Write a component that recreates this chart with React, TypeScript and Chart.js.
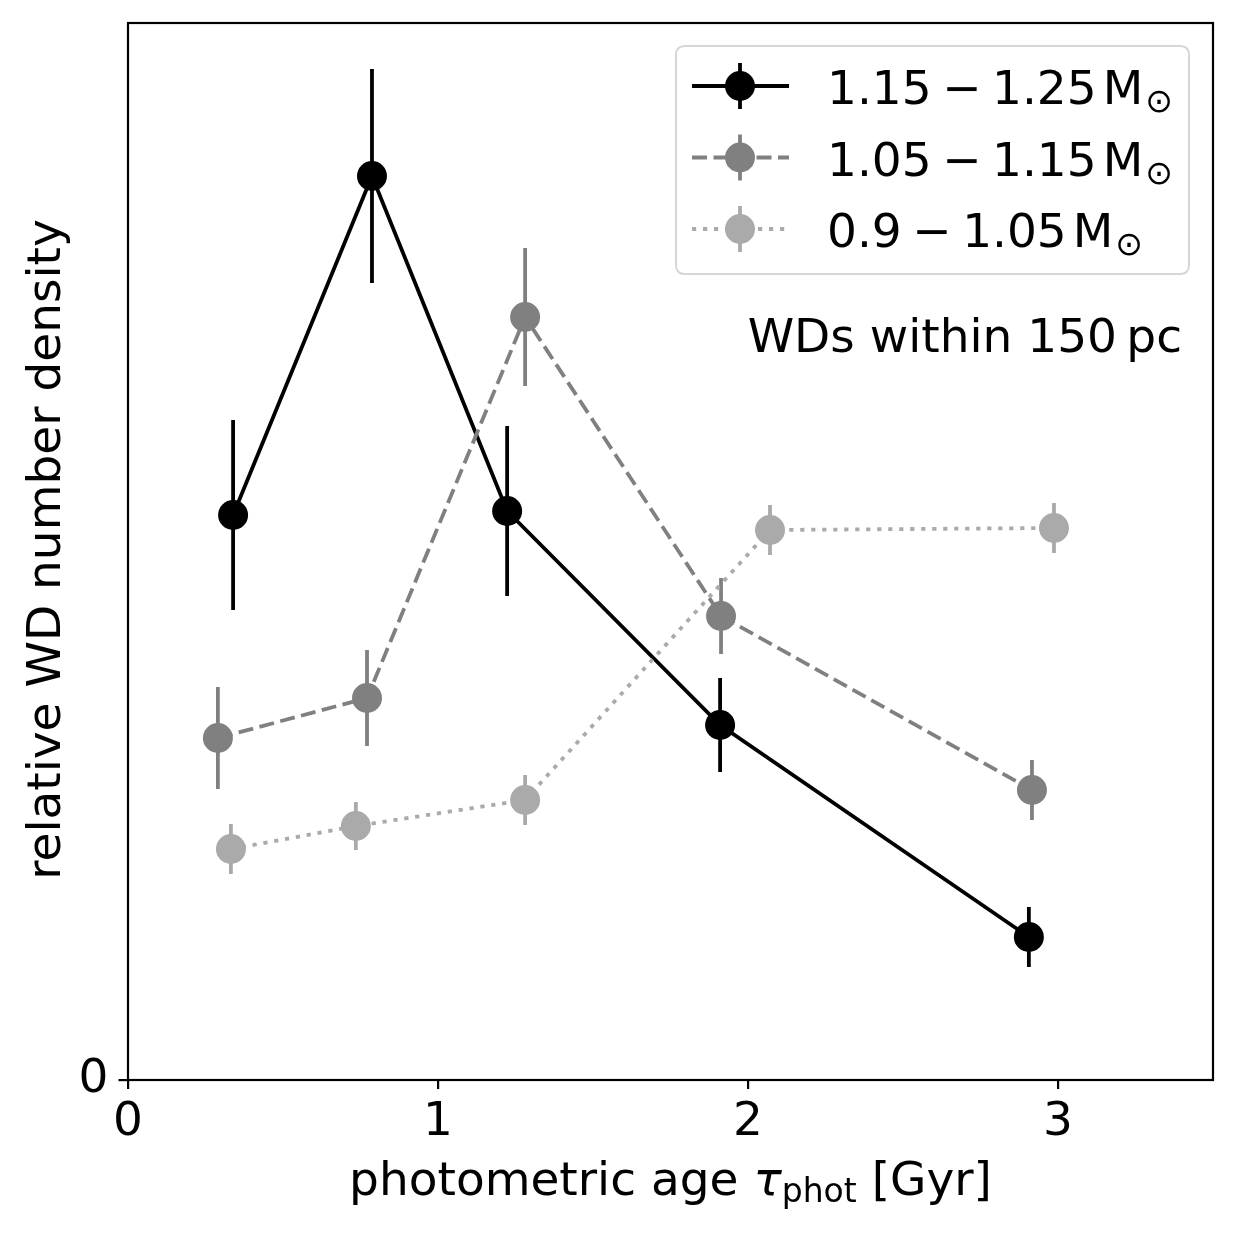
import React, { useEffect, useRef } from 'react';
import { Chart, registerables } from 'chart.js';

Chart.register(...registerables);

// ---------- data ----------
const massRanges = [
  ['1.15', '1.25'],
  ['1.05', '1.15'],
  ['0.9', '1.05'],
];
const seriesLabels = massRanges.map((r) => `${r[0]} − ${r[1]}`);

const heavyAge = [0.339, 0.787, 1.223, 1.91, 2.906];
const heavyDensity = [5.65, 9.04, 5.69, 3.55, 1.43];
const heavyErr = [0.95, 1.07, 0.85, 0.47, 0.3];

const midAge = [0.29, 0.771, 1.281, 1.913, 2.916];
const midDensity = [3.42, 3.82, 7.63, 4.64, 2.9];
const midErr = [0.51, 0.48, 0.69, 0.38, 0.3];

const lightAge = [0.332, 0.735, 1.281, 2.071, 2.987];
const lightDensity = [2.31, 2.54, 2.8, 5.5, 5.52];
const lightErr = [0.25, 0.24, 0.25, 0.25, 0.25];

const xTickValues = [0, 1, 2, 3];
const yTickValues = [0];
const xMax = 3.5;
const yMax = 10.57;

const annotationText = 'WDs within 150\u2009pc';

// ---------- styles ----------
const FONT = '"DejaVu Sans", sans-serif';
const FS = 47;
const LW = 3.8;
const colors = ['#000000', '#808080', '#aaaaaa'];
const dashes: number[][] = [[], [15, 6.5], [4.2, 6.8]];

const toPoints = (xs: number[], ys: number[]) => xs.map((x, i) => ({ x, y: ys[i] }));

const errorBarPlugin = {
  id: 'errorBars',
  beforeDatasetDraw(chart: any, args: any) {
    const ds = chart.data.datasets[args.index];
    const errs: number[] = ds.errors || [];
    const ctx = chart.ctx;
    const xs = chart.scales.x;
    const ys = chart.scales.y;
    ctx.save();
    ctx.strokeStyle = ds.borderColor;
    ctx.lineWidth = LW;
    ctx.setLineDash([]);
    ds.data.forEach((p: any, i: number) => {
      const px = xs.getPixelForValue(p.x);
      ctx.beginPath();
      ctx.moveTo(px, ys.getPixelForValue(p.y - errs[i]));
      ctx.lineTo(px, ys.getPixelForValue(p.y + errs[i]));
      ctx.stroke();
    });
    ctx.restore();
  },
};

const decorPlugin = {
  id: 'decor',
  afterDraw(chart: any) {
    const ctx = chart.ctx;
    const a = chart.chartArea;
    ctx.save();
    // frame
    ctx.strokeStyle = '#000';
    ctx.lineWidth = 2.2;
    ctx.setLineDash([]);
    ctx.strokeRect(a.left, a.top, a.right - a.left, a.bottom - a.top);

    ctx.fillStyle = '#000';
    ctx.textBaseline = 'alphabetic';

    // y title
    ctx.save();
    ctx.translate(60, (a.top + a.bottom) / 2 - 2);
    ctx.rotate(-Math.PI / 2);
    ctx.font = `${FS}px ${FONT}`;
    ctx.textAlign = 'center';
    ctx.fillText('relative WD number density', 0, 0);
    ctx.restore();

    // x title with subscript
    const base = 1195;
    const p1 = 'photometric age ';
    const p2 = 'τ';
    const p3 = 'phot';
    const p4 = ' [Gyr]';
    const fMain = `${FS}px ${FONT}`;
    const fIt = `italic ${FS}px ${FONT}`;
    const fSub = `${Math.round(FS * 0.7)}px ${FONT}`;
    ctx.textAlign = 'left';
    ctx.font = fMain; const w1 = ctx.measureText(p1).width; const w4 = ctx.measureText(p4).width;
    ctx.font = fIt; const w2 = ctx.measureText(p2).width;
    ctx.font = fSub; const w3 = ctx.measureText(p3).width;
    const total = w1 + w2 + w3 + w4;
    let x = (a.left + a.right) / 2 - total / 2;
    ctx.font = fMain; ctx.fillText(p1, x, base); x += w1;
    ctx.font = fIt; ctx.fillText(p2, x, base); x += w2;
    ctx.font = fSub; ctx.fillText(p3, x, base + 7); x += w3;
    ctx.font = fMain; ctx.fillText(p4, x, base);

    // annotation
    ctx.font = fMain;
    ctx.textAlign = 'right';
    ctx.fillText(annotationText, 1182, 352);

    // legend
    const bx = 676, by = 46, bw = 513, bh = 228, r = 9;
    ctx.beginPath();
    ctx.moveTo(bx + r, by);
    ctx.lineTo(bx + bw - r, by);
    ctx.quadraticCurveTo(bx + bw, by, bx + bw, by + r);
    ctx.lineTo(bx + bw, by + bh - r);
    ctx.quadraticCurveTo(bx + bw, by + bh, bx + bw - r, by + bh);
    ctx.lineTo(bx + r, by + bh);
    ctx.quadraticCurveTo(bx, by + bh, bx, by + bh - r);
    ctx.lineTo(bx, by + r);
    ctx.quadraticCurveTo(bx, by, bx + r, by);
    ctx.closePath();
    ctx.fillStyle = 'rgba(255,255,255,0.8)';
    ctx.fill();
    ctx.strokeStyle = '#d6d6d6';
    ctx.lineWidth = 2;
    ctx.stroke();

    massRanges.forEach((range, i) => {
      const cy = 86 + i * 71.5;
      const c = colors[i];
      ctx.strokeStyle = c;
      ctx.fillStyle = c;
      ctx.lineWidth = LW;
      ctx.setLineDash(dashes[i]);
      ctx.beginPath();
      ctx.moveTo(692, cy);
      ctx.lineTo(789, cy);
      ctx.stroke();
      ctx.setLineDash([]);
      ctx.beginPath();
      ctx.moveTo(740, cy - 23);
      ctx.lineTo(740, cy + 23);
      ctx.stroke();
      ctx.beginPath();
      ctx.arc(740, cy, 15, 0, Math.PI * 2);
      ctx.fill();

      ctx.fillStyle = '#000';
      ctx.textAlign = 'left';
      ctx.font = fMain;
      const ty = cy + 18;
      let tx = 827;
      const gap = 10.5;
      ctx.fillText(range[0], tx, ty); tx += ctx.measureText(range[0]).width + gap;
      ctx.fillText('−', tx, ty); tx += ctx.measureText('−').width + gap;
      ctx.fillText(range[1], tx, ty); tx += ctx.measureText(range[1]).width + 6;
      ctx.fillText('M', tx, ty); tx += ctx.measureText('M').width + 2;
      ctx.font = fSub;
      ctx.fillText('⊙', tx, ty + 8);
    });

    ctx.restore();
  },
};

export default function App() {
  const ref = useRef<HTMLCanvasElement | null>(null);

  useEffect(() => {
    document.body.style.margin = '0';
    const canvas = ref.current;
    if (!canvas) return;
    const mk = (i: number, xs: number[], ys: number[], errs: number[]) => ({
      label: seriesLabels[i],
      data: toPoints(xs, ys),
      errors: errs,
      borderColor: colors[i],
      backgroundColor: colors[i],
      borderWidth: LW,
      borderDash: dashes[i],
      pointRadius: 15,
      pointHoverRadius: 15,
      pointBorderWidth: 0,
      pointBackgroundColor: colors[i],
      pointBorderColor: colors[i],
      tension: 0,
      fill: false,
      order: 3 - i,
    });
    const chart = new Chart(canvas, {
      type: 'line',
      data: {
        datasets: [
          mk(0, heavyAge, heavyDensity, heavyErr),
          mk(1, midAge, midDensity, midErr),
          mk(2, lightAge, lightDensity, lightErr),
        ] as any,
      },
      options: {
        animation: false,
        responsive: false,
        devicePixelRatio: 1,
        layout: { autoPadding: false, padding: { top: 23, right: 23, left: 0, bottom: 0 } },
        plugins: { legend: { display: false }, tooltip: { enabled: false }, title: { display: false } },
        scales: {
          x: {
            type: 'linear',
            min: 0,
            max: xMax,
            afterBuildTicks: (s: any) => { s.ticks = xTickValues.map((v) => ({ value: v })); },
            afterFit: (s: any) => { s.height = 1233 - 1080; s.paddingLeft = 0; s.paddingRight = 0; },
            ticks: { color: '#000', font: { family: FONT, size: FS }, padding: 6, maxRotation: 0, callback: (v: any) => String(v) },
            grid: { display: true, drawOnChartArea: false, drawTicks: true, tickLength: 9, color: '#000', lineWidth: 2.2 },
            border: { display: false },
          },
          y: {
            type: 'linear',
            min: 0,
            max: yMax,
            afterBuildTicks: (s: any) => { s.ticks = yTickValues.map((v) => ({ value: v })); },
            afterFit: (s: any) => { s.width = 128; s.paddingTop = 0; s.paddingBottom = 0; },
            ticks: { color: '#000', font: { family: FONT, size: FS }, padding: 10, callback: (v: any) => String(v) },
            grid: { display: true, drawOnChartArea: false, drawTicks: true, tickLength: 9.5, color: '#000', lineWidth: 2.2 },
            border: { display: false },
          },
        },
      } as any,
      plugins: [errorBarPlugin, decorPlugin],
    });
    return () => chart.destroy();
  }, []);

  return (
    <div style={{ width: 1236, height: 1233, background: '#fff' }}>
      <canvas ref={ref} width={1236} height={1233} style={{ display: 'block' }} />
    </div>
  );
}
